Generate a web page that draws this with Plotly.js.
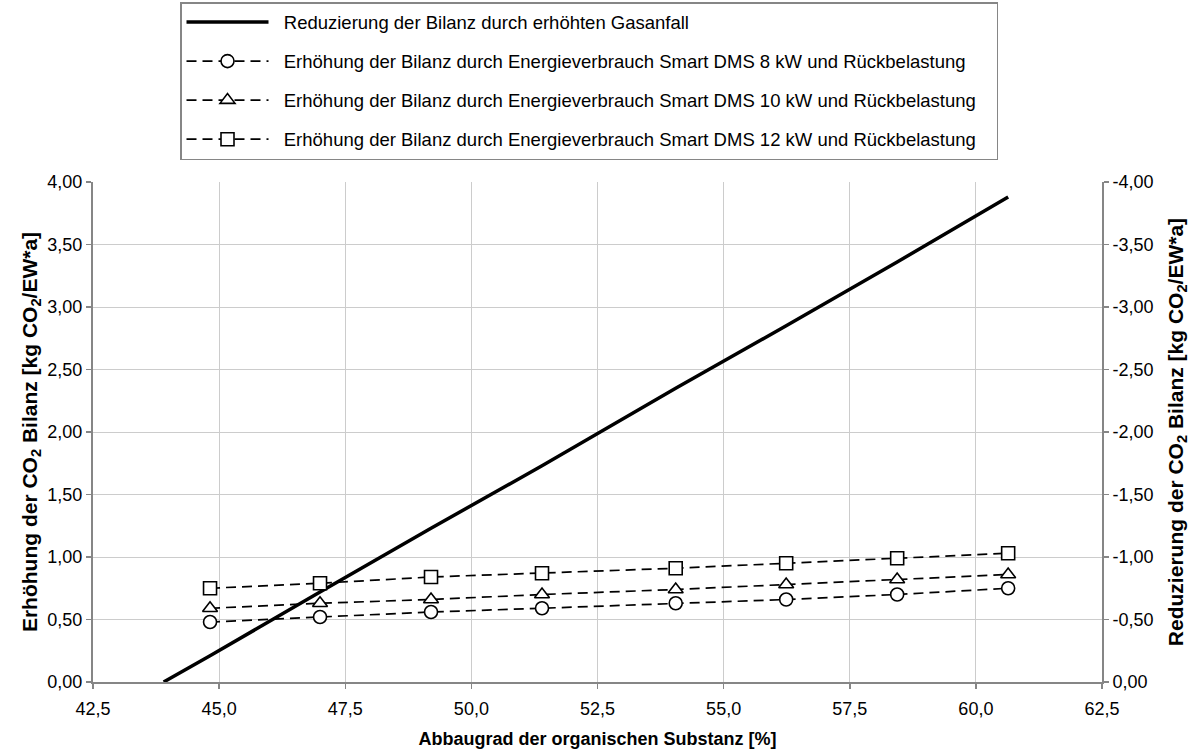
<!DOCTYPE html>
<html>
<head>
<meta charset="utf-8">
<script src="https://cdn.plot.ly/plotly-3.0.1.min.js"></script>
<style>html,body{margin:0;padding:0;background:#fff;}#chart{width:1190px;height:751px;}</style>
</head>
<body>
<div id="chart"></div>
<script>
// Abbaugrad der organischen Substanz [%]
const abbaugrad = [44.82, 47.0, 49.2, 51.4, 54.05, 56.24, 58.44, 60.64];
// Reduzierung der Bilanz durch erhöhten Gasanfall (line starts at zero)
const gasX = [43.9, 44.82, 47.0, 49.2, 51.4, 54.05, 56.24, 58.44, 60.64];
const gasY = [0.0, 0.21, 0.72, 1.23, 1.73, 2.35, 2.85, 3.36, 3.88];
// Erhöhung der Bilanz durch Energieverbrauch Smart DMS
const dms8  = [0.48, 0.52, 0.56, 0.59, 0.63, 0.66, 0.70, 0.75];
const dms10 = [0.59, 0.63, 0.66, 0.70, 0.74, 0.78, 0.82, 0.86];
const dms12 = [0.75, 0.79, 0.84, 0.87, 0.91, 0.95, 0.99, 1.03];

const names = [
  'Reduzierung der Bilanz durch erhöhten Gasanfall',
  'Erhöhung der Bilanz durch Energieverbrauch Smart DMS 8 kW und Rückbelastung',
  'Erhöhung der Bilanz durch Energieverbrauch Smart DMS 10 kW und Rückbelastung',
  'Erhöhung der Bilanz durch Energieverbrauch Smart DMS 12 kW und Rückbelastung'
];
const yTickVals = [0, 0.5, 1, 1.5, 2, 2.5, 3, 3.5, 4];
const yTickText = ['0,00','0,50','1,00','1,50','2,00','2,50','3,00','3,50','4,00'];
const y2TickVals = [0, -0.5, -1, -1.5, -2, -2.5, -3, -3.5, -4];
const y2TickText = ['0,00','-0,50','-1,00','-1,50','-2,00','-2,50','-3,00','-3,50','-4,00'];

const FONT = 'Liberation Sans, Arial, sans-serif';
const dashed = {color:'#000', width:1.7, dash:'10px,6px'};
function mk(sym){ return {symbol:sym, size:13, color:'#fff', line:{color:'#000', width:1.6}}; }
function lg(s){ return '&nbsp;&nbsp;' + s + '&nbsp;&nbsp;&nbsp;'; }

const traces = [
  {x:gasX, y:gasY, name:lg(names[0]), mode:'lines', line:{color:'#000', width:3.5}, legendgroup:'a'},
  {x:abbaugrad, y:dms8, name:lg(names[1]), mode:'lines+markers', line:dashed, marker:mk('circle'), legendgroup:'b'},
  {x:abbaugrad, y:dms10, name:lg(names[2]), mode:'lines+markers', line:dashed, marker:mk('triangle-up'), legendgroup:'c'},
  {x:abbaugrad, y:dms12, name:lg(names[3]), mode:'lines+markers', line:dashed, marker:mk('square'), legendgroup:'d'},
  {x:[null], y:[null], yaxis:'y2', showlegend:false, hoverinfo:'skip', mode:'lines'}
];

const axisCommon = {
  showline:true, linecolor:'#868686', linewidth:2,
  ticks:'outside', ticklen:5, tickcolor:'#868686', tickwidth:1.5,
  gridcolor:'#cccccc', gridwidth:1, zeroline:false, automargin:false,
  tickfont:{family:FONT, size:18, color:'#000'}
};

const layout = {
  width:1190, height:751,
  margin:{l:93, r:88, t:182, b:69, autoexpand:false},
  paper_bgcolor:'#fff', plot_bgcolor:'#fff',
  separators:',.',
  font:{family:FONT, size:18, color:'#000'},
  showlegend:true,
  legend:{
    x:(180-93)/1009, xanchor:'left', y:(682-2)/500, yanchor:'top',
    bordercolor:'#868686', borderwidth:1.5, bgcolor:'#fff',
    font:{family:FONT, size:18.5, color:'#000'},
    itemwidth:82, tracegroupgap:12, traceorder:'grouped',
    itemclick:false, itemdoubleclick:false
  },
  xaxis:Object.assign({}, axisCommon, {
    range:[42.5, 62.5], dtick:2.5, tick0:42.5, tickformat:'.1f', ticklabelstandoff:4,
    title:{text:'<b>Abbaugrad der organischen Substanz [%]</b>', font:{family:FONT, size:18}, standoff:15}
  }),
  yaxis:Object.assign({}, axisCommon, {
    range:[0, 4], tickmode:'array', tickvals:yTickVals, ticktext:yTickText,
    title:{text:'<b>Erhöhung der CO<sub>2</sub> Bilanz [kg CO<sub>2</sub>/EW*a]</b>', font:{family:FONT, size:21}, standoff:4}
  }),
  yaxis2:Object.assign({}, axisCommon, {
    overlaying:'y', side:'right', range:[0, -4], showgrid:false,
    tickmode:'array', tickvals:y2TickVals, ticktext:y2TickText,
    title:{text:'<b>Reduzierung der CO<sub>2</sub> Bilanz [kg CO<sub>2</sub>/EW*a]</b>', font:{family:FONT, size:21}, standoff:17}
  })
};

Plotly.newPlot('chart', traces, layout, {displayModeBar:false, staticPlot:true});
</script>
</body>
</html>
